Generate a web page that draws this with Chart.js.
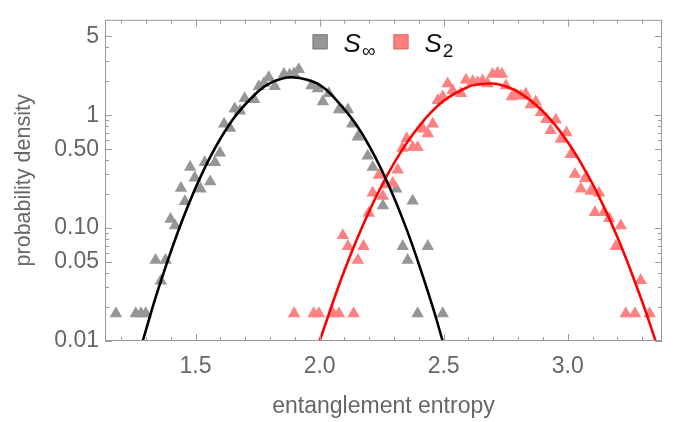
<!DOCTYPE html>
<html>
<head>
<meta charset="utf-8">
<script src="https://cdn.jsdelivr.net/npm/chart.js@4.4.0/dist/chart.umd.min.js"></script>
<style>
  html, body { margin: 0; padding: 0; background: #ffffff; }
  #caixa { width: 678px; height: 422px; }
</style>
</head>
<body>
<div id="caixa"><canvas id="grafico" width="678" height="422"></canvas></div>
<script>
// S_inf (cinza) - pontos do histograma
const cinzaX = [1.179, 1.259, 1.280, 1.299, 1.339, 1.360, 1.379, 1.399, 1.417, 1.441, 1.457, 1.478, 1.497, 1.520, 1.537,
  1.559, 1.578, 1.598, 1.615, 1.639, 1.658, 1.679, 1.698, 1.736, 1.755, 1.776, 1.795, 1.819, 1.856, 1.879, 1.897,
  1.916, 1.967, 1.993, 2.013, 2.037, 2.078, 2.114, 2.131, 2.154, 2.194, 2.214, 2.255, 2.309, 2.335, 2.355, 2.375,
  2.395, 2.436, 2.496];
const cinzaY = [0.0175, 0.0175, 0.0175, 0.0175, 0.052, 0.034, 0.052, 0.12, 0.105, 0.226, 0.172, 0.346, 0.279, 0.223, 0.382,
  0.258, 0.382, 0.464, 0.837, 0.769, 1.14, 1.09, 1.41, 1.38, 1.80, 1.92, 2.16, 1.80, 2.31, 2.28, 2.33,
  2.54, 1.83, 1.72, 1.32, 1.56, 1.12, 1.12, 0.837, 0.644, 0.435, 0.346, 0.158, 0.222, 0.069, 0.052, 0.174,
  0.0175, 0.069, 0.0175];

// S_2 (vermelho) - pontos do histograma
const vermX = [1.897, 1.976, 1.997, 2.054, 2.078, 2.094, 2.114, 2.137, 2.154, 2.177, 2.198, 2.214, 2.239, 2.255, 2.268,
  2.295, 2.315, 2.334, 2.351, 2.375, 2.395, 2.416, 2.436, 2.456, 2.476, 2.496, 2.516, 2.536, 2.570, 2.590, 2.617,
  2.637, 2.657, 2.677, 2.697, 2.717, 2.735, 2.751, 2.775, 2.791, 2.811, 2.831, 2.851, 2.871, 2.892, 2.914, 2.931,
  2.952, 2.972, 2.995, 3.012, 3.029, 3.053, 3.070, 3.093, 3.110, 3.126, 3.146, 3.167, 3.194, 3.214, 3.234, 3.271,
  3.294, 3.330];
const vermY = [0.0175, 0.0175, 0.0175, 0.0175, 0.0175, 0.086, 0.069, 0.0175, 0.052, 0.069, 0.136, 0.205, 0.294, 0.192, 0.242,
  0.25, 0.328, 0.512, 0.624, 0.519, 0.519, 0.758, 0.688, 0.837, 1.35, 1.46, 1.90, 1.66, 1.56, 2.05, 1.99,
  1.95, 2.02, 1.90, 2.31, 2.35, 2.31, 1.83, 1.46, 1.51, 1.48, 1.54, 1.24, 1.32, 1.06, 0.92, 0.733,
  0.91, 0.615, 0.70, 0.45, 0.30, 0.222, 0.275, 0.212, 0.138, 0.205, 0.138, 0.122, 0.069, 0.105, 0.0175, 0.0175,
  0.0344, 0.0175];

// curvas de ajuste
const curvaPretaX = [1.287, 1.35, 1.45, 1.55, 1.65, 1.75, 1.80, 1.85, 1.89, 1.95, 2.00, 2.05, 2.15, 2.25, 2.35, 2.45, 2.496];
const curvaPretaY = [0.01, 0.029, 0.123, 0.39, 0.918, 1.61, 1.92, 2.11, 2.166, 2.06, 1.86, 1.50, 0.81, 0.327, 0.0984, 0.022, 0.01];
const curvaVermX = [2.0, 2.1, 2.2, 2.3, 2.4, 2.5, 2.6, 2.65, 2.68, 2.72, 2.8, 2.9, 3.0, 3.1, 3.2, 3.3, 3.354];
const curvaVermY = [0.01, 0.0421, 0.141, 0.376, 0.795, 1.34, 1.79, 1.89, 1.91, 1.88, 1.61, 1.08, 0.579, 0.246, 0.0833, 0.0224, 0.01];

// marcas dos eixos
const xMaiores = [1.5, 2.0, 2.5, 3.0];
const xMenores = [1.2, 1.3, 1.4, 1.6, 1.7, 1.8, 1.9, 2.1, 2.2, 2.3, 2.4, 2.6, 2.7, 2.8, 2.9, 3.1, 3.2, 3.3];
const yMaiores = [0.01, 0.05, 0.1, 0.5, 1, 5];
const yRotulos = ['0.01', '0.05', '0.10', '0.50', '1', '5'];
const yMenores = [0.02, 0.03, 0.04, 0.06, 0.07, 0.08, 0.09, 0.2, 0.3, 0.4, 0.6, 0.7, 0.8, 0.9, 2, 3, 4];

const legendaItens = [
  { sub: '\u221E', cor: '#969696', borda: '#7a7a7a' },
  { sub: '2', cor: '#ff8080', borda: '#d96c6c' }
];

const juntar = (xs, ys) => xs.map((x, i) => ({ x: x, y: ys[i] }));

const corEixo = '#9a9a9a';
const corTexto = '#666666';
const fonte = "'Liberation Sans', Arial, sans-serif";

// moldura com marcas para dentro (estilo Mathematica) + legenda
const moldura = {
  id: 'moldura',
  afterDatasetsDraw(chart) {
    const ctx = chart.ctx;
    const a = chart.chartArea;
    const sx = chart.scales.x;
    const sy = chart.scales.y;
    ctx.save();
    ctx.strokeStyle = corEixo;
    ctx.lineWidth = 1;
    ctx.strokeRect(a.left + 0.5, a.top + 0.5, a.right - a.left - 1, a.bottom - a.top - 1);
    const marcaX = (v, t) => {
      const px = Math.round(sx.getPixelForValue(v)) + 0.5;
      ctx.beginPath();
      ctx.moveTo(px, a.bottom); ctx.lineTo(px, a.bottom - t);
      ctx.moveTo(px, a.top); ctx.lineTo(px, a.top + t);
      ctx.stroke();
    };
    const marcaY = (v, t) => {
      const py = Math.round(sy.getPixelForValue(v)) + 0.5;
      ctx.beginPath();
      ctx.moveTo(a.left, py); ctx.lineTo(a.left + t, py);
      ctx.moveTo(a.right, py); ctx.lineTo(a.right - t, py);
      ctx.stroke();
    };
    xMaiores.forEach(v => marcaX(v, 7));
    xMenores.forEach(v => marcaX(v, 4));
    yMaiores.forEach(v => marcaY(v, 7));
    yMenores.forEach(v => marcaY(v, 4));

    // legenda
    const lado = 15;
    const fonteS = 'italic 26px ' + fonte;
    const fonteSub = '19px ' + fonte;
    ctx.font = fonteS;
    const wS = ctx.measureText('S').width;
    const larguras = legendaItens.map(it => {
      ctx.font = fonteSub;
      return lado + 17 + wS + 1 + ctx.measureText(it.sub).width;
    });
    const espaco = 17;
    const total = larguras.reduce((s, w) => s + w, 0) + espaco * (larguras.length - 1);
    let x0 = (a.left + a.right) / 2 - total / 2;
    const yc = a.top + 22;
    legendaItens.forEach((it, i) => {
      ctx.fillStyle = it.cor;
      ctx.strokeStyle = it.borda;
      ctx.fillRect(x0, yc - lado / 2, lado, lado);
      ctx.strokeRect(x0 + 0.5, yc - lado / 2 + 0.5, lado - 1, lado - 1);
      ctx.fillStyle = '#111111';
      ctx.textBaseline = 'alphabetic';
      ctx.font = fonteS;
      const tx = x0 + lado + 16;
      ctx.fillText('S', tx, yc + 10);
      ctx.font = fonteSub;
      ctx.fillText(it.sub, tx + wS + 1, yc + 15);
      x0 += larguras[i] + espaco;
    });
    ctx.restore();
  }
};

const ctx = document.getElementById('grafico').getContext('2d');

const grafico = new Chart(ctx, {
  type: 'scatter',
  data: {
    datasets: [
      {
        label: 'ajuste S_inf',
        data: juntar(curvaPretaX, curvaPretaY),
        showLine: true,
        borderColor: '#000000',
        borderWidth: 2.6,
        pointRadius: 0,
        tension: 0.4,
        order: 0
      },
      {
        label: 'ajuste S_2',
        data: juntar(curvaVermX, curvaVermY),
        showLine: true,
        borderColor: '#ff0000',
        borderWidth: 2.6,
        pointRadius: 0,
        tension: 0.4,
        order: 0
      },
      {
        label: 'S_2',
        data: juntar(vermX, vermY),
        pointStyle: 'triangle',
        pointRadius: 7.2,
        borderWidth: 0,
        backgroundColor: '#ff8080',
        order: 1
      },
      {
        label: 'S_inf',
        data: juntar(cinzaX, cinzaY),
        pointStyle: 'triangle',
        pointRadius: 7.2,
        borderWidth: 0,
        backgroundColor: '#969696',
        order: 2
      }
    ]
  },
  options: {
    responsive: false,
    animation: false,
    devicePixelRatio: 1,
    layout: { padding: { top: 7, right: 16, left: 0, bottom: 0 } },
    plugins: {
      legend: { display: false },
      tooltip: { enabled: false }
    },
    scales: {
      x: {
        type: 'linear',
        min: 1.135,
        max: 3.38,
        afterFit: (s) => { s.height = 81; },
        afterBuildTicks: (s) => { s.ticks = xMaiores.map(v => ({ value: v })); },
        grid: { display: false, drawTicks: false },
        border: { display: false },
        ticks: {
          padding: 12,
          color: corTexto,
          font: { family: fonte, size: 23 },
          callback: (v) => v.toFixed(1)
        },
        title: {
          display: true,
          text: 'entanglement entropy',
          color: corTexto,
          font: { family: fonte, size: 23 },
          padding: { top: 0, bottom: 2 }
        }
      },
      y: {
        type: 'logarithmic',
        min: 0.01,
        max: 7,
        afterFit: (s) => { s.width = 105; },
        afterBuildTicks: (s) => { s.ticks = yMaiores.map(v => ({ value: v })); },
        grid: { display: false, drawTicks: false },
        border: { display: false },
        ticks: {
          padding: 6,
          color: corTexto,
          font: { family: fonte, size: 23 },
          callback: (v) => {
            const i = yMaiores.indexOf(v);
            return i >= 0 ? yRotulos[i] : '';
          }
        },
        title: {
          display: true,
          text: 'probability density',
          color: corTexto,
          font: { family: fonte, size: 21.5 },
          padding: { top: 11, bottom: 0 }
        }
      }
    }
  },
  plugins: [moldura]
});
</script>
</body>
</html>
